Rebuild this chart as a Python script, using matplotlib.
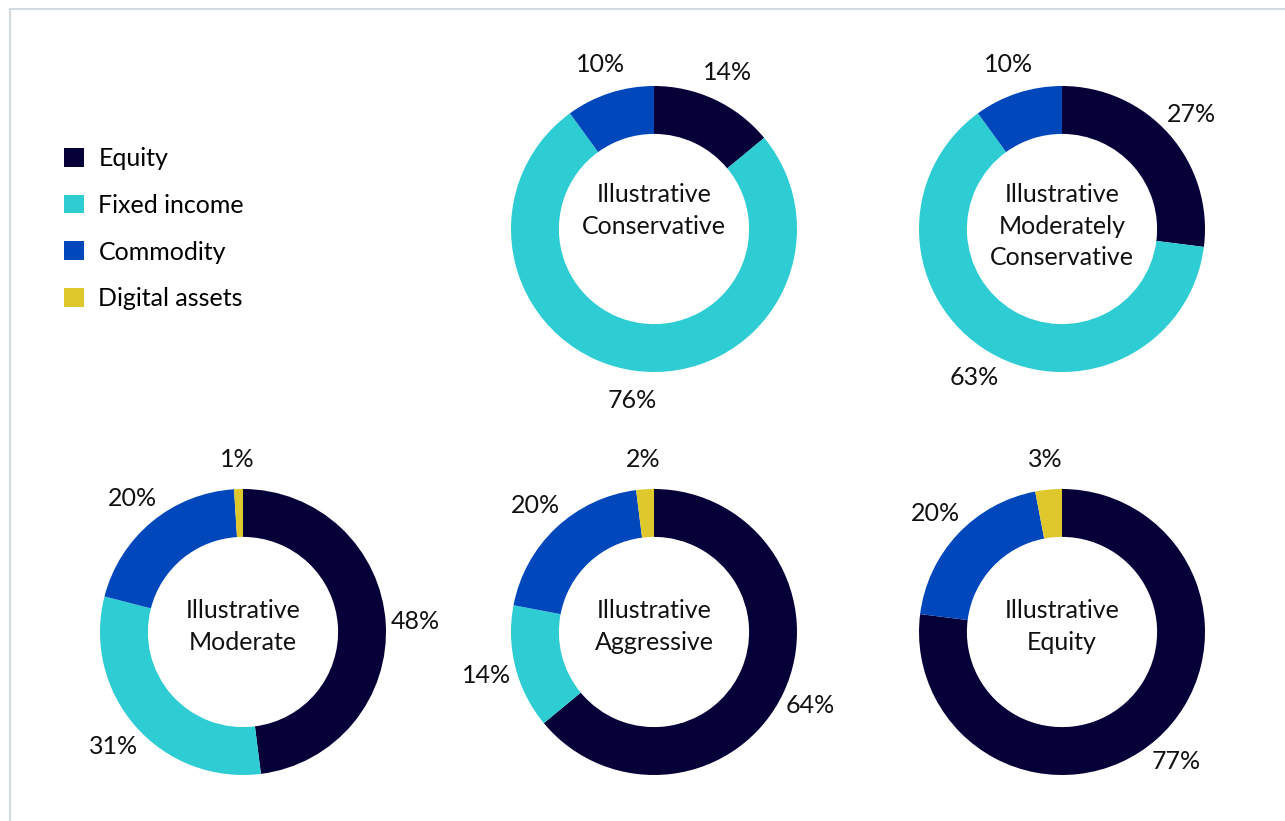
import matplotlib.pyplot as plt
from matplotlib.lines import Line2D
from matplotlib.patches import Patch

plt.rcParams["font.family"] = ["Lato", "DejaVu Sans"]

CATEGORIES = ["Equity", "Fixed income", "Commodity", "Digital assets"]
COLORS = ["#050038", "#2ECCD3", "#0047BB", "#DFC82C"]

PORTFOLIOS = [
    "Illustrative\nConservative",
    "Illustrative\nModerately\nConservative",
    "Illustrative\nModerate",
    "Illustrative\nAggressive",
    "Illustrative\nEquity",
]
EQUITY = [14, 27, 48, 64, 77]
FIXED_INCOME = [76, 63, 31, 14, 0]
COMMODITY = [10, 10, 20, 20, 20]
DIGITAL = [0, 0, 1, 2, 3]

W, H = 1285, 821
# donut centres (pixels from top-left), outer radius in pixels
CENTRES = [(654, 229), (1062, 229), (243, 632), (654, 632), (1062, 632)]
TITLE_SHIFT = [0.13, 0.02, 0.04, 0.04, 0.04]  # centre label nudge, data units
R_PX = 143
HALF = 1.45  # axes half-width in data units (radius = 1)
FS = 18

fig = plt.figure(figsize=(W / 100, H / 100), dpi=100)

# thin frame at top and left
fig.add_artist(Line2D([10 / W, 10 / W], [0, 1 - 9 / H], transform=fig.transFigure,
                      color="#d3d9e1", lw=1.5))
fig.add_artist(Line2D([10 / W, 1], [1 - 9 / H, 1 - 9 / H], transform=fig.transFigure,
                      color="#d3d9e1", lw=1.5))

for i, name in enumerate(PORTFOLIOS):
    cx, cy = CENTRES[i]
    half_px = HALF * R_PX
    ax = fig.add_axes([(cx - half_px) / W, 1 - (cy + half_px) / H,
                       2 * half_px / W, 2 * half_px / H])
    vals = [EQUITY[i], FIXED_INCOME[i], COMMODITY[i], DIGITAL[i]]
    keep = [k for k, v in enumerate(vals) if v > 0]
    wedges, _, autotexts = ax.pie(
        [vals[k] for k in keep],
        colors=[COLORS[k] for k in keep],
        startangle=90,
        counterclock=False,
        radius=1.0,
        wedgeprops=dict(width=0.335, linewidth=0),
        autopct="%1.0f%%",
        pctdistance=1.21,
        textprops=dict(fontsize=FS, color="#111111"),
    )
    ax.text(0, TITLE_SHIFT[i], name, ha="center", va="center", fontsize=FS,
            color="#111111", linespacing=1.45)
    ax.set_xlim(-HALF, HALF)
    ax.set_ylim(-HALF, HALF)
    ax.set_aspect("equal")
    ax.axis("off")

handles = [Patch(facecolor=c, edgecolor="none") for c in COLORS]
fig.legend(handles, CATEGORIES, loc="upper left",
           bbox_to_anchor=(54 / W, 1 - 137 / H), frameon=False,
           fontsize=FS, handlelength=0.78, handleheight=0.78,
           handletextpad=0.6, labelspacing=0.95, borderaxespad=0)

fig.savefig("out.png", dpi=100)
